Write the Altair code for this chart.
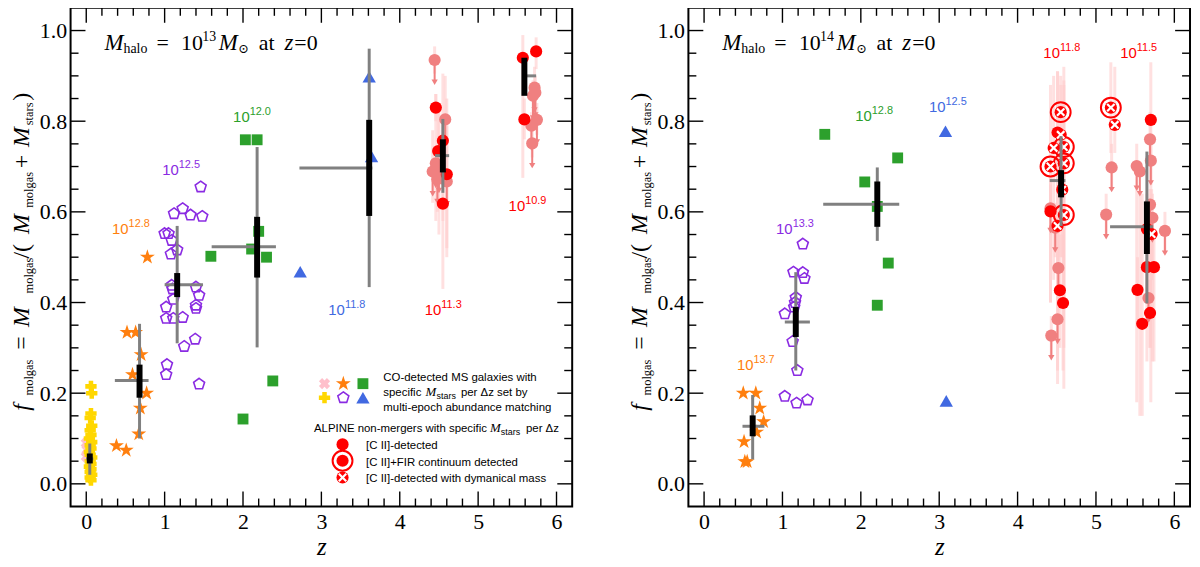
import altair as alt
import numpy as np
import pandas as pd

# ------------------------------------------------------------------ data
X_TICKS = [0, 1, 2, 3, 4, 5, 6]
Y_TICKS = [0.0, 0.2, 0.4, 0.6, 0.8, 1.0]
HALO_EXP = ["13", "14"]

# left panel: M_halo = 10^13 Msun at z=0
L_pink_z = [0.00, 0.01, 0.00]
L_pink_f = [0.090, 0.075, 0.060]
L_yellow_z = [0.06, 0.07, 0.06, 0.05, 0.07, 0.05, 0.06, 0.04, 0.07, 0.05, 0.06,
              0.04, 0.05, 0.07, 0.05, 0.06, 0.04, 0.06, 0.05, 0.07, 0.05, 0.06]
L_yellow_f = [0.215, 0.200, 0.155, 0.145, 0.128, 0.118, 0.108, 0.100, 0.092, 0.085, 0.078,
              0.070, 0.064, 0.058, 0.050, 0.044, 0.038, 0.032, 0.026, 0.020, 0.014, 0.008]
L_orange_z = [0.52, 0.63, 0.78, 0.70, 0.59, 0.77, 0.69, 0.67, 0.385, 0.51]
L_orange_f = [0.334, 0.334, 0.500, 0.285, 0.241, 0.200, 0.167, 0.110, 0.084, 0.074]
L_purple_z = [1.46, 1.23, 1.12, 1.33, 1.48, 1.00, 1.05, 1.09, 1.16, 1.08, 1.09, 1.10, 1.40,
              1.44, 1.11, 1.02, 1.40, 1.40, 1.02, 1.11, 1.23, 1.39, 1.25, 1.03, 1.02, 1.44]
L_purple_f = [0.655, 0.607, 0.596, 0.593, 0.590, 0.552, 0.552, 0.537, 0.516, 0.507, 0.438, 0.430, 0.434,
              0.416, 0.407, 0.390, 0.394, 0.387, 0.365, 0.365, 0.367, 0.319, 0.303, 0.263, 0.241, 0.220]
L_green_z = [1.59, 2.03, 2.18, 2.20, 2.11, 2.30, 2.38, 2.00]
L_green_f = [0.502, 0.759, 0.759, 0.557, 0.518, 0.500, 0.227, 0.143]
L_blue_z = [3.61, 3.64, 2.73]
L_blue_f = [0.898, 0.722, 0.468]

L_alp_z = [4.445, 4.58, 4.46, 4.42, 4.50, 4.60, 4.48, 4.46, 4.55, 4.49, 4.60, 4.55,
           5.57, 5.74, 5.59, 5.72, 5.73, 5.70, 5.75, 5.68, 5.69]
L_alp_f = [0.935, 0.804, 0.707, 0.689, 0.696, 0.667, 0.672, 0.830, 0.757, 0.734, 0.683, 0.618,
           0.940, 0.954, 0.804, 0.874, 0.863, 0.856, 0.803, 0.790, 0.751]
L_alp_kind = ["lim", "lim", "lim", "lim", "lim", "lim", "lim", "det", "det", "det", "det", "det",
              "det", "det", "det", "lim", "lim", "lim", "lim", "lim", "lim"]
L_alp_lo = [0.905, 0.66, 0.58, 0.62, 0.55, 0.50, 0.60, 0.80, 0.43, 0.62, 0.52, 0.58,
            0.675, 0.915, 0.76, 0.84, 0.83, 0.82, 0.77, 0.76, 0.72]
L_alp_hi = [0.965, 0.90, 0.86, 0.78, 0.83, 0.85, 0.74, 0.86, 0.905, 0.82, 0.79, 0.66,
            0.99, 0.985, 0.85, 0.92, 0.90, 0.89, 0.84, 0.82, 0.78]

L_med_z = [0.045, 0.68, 1.16, 2.18, 3.61, 4.55, 5.59]
L_med_f = [0.055, 0.228, 0.439, 0.523, 0.697, 0.724, 0.900]
L_med_zlo = [0.00, 0.365, 1.00, 1.60, 2.72, 4.45, 5.59]
L_med_zhi = [0.09, 0.795, 1.49, 2.42, 3.65, 4.63, 5.74]
L_med_flo = [0.020, 0.100, 0.310, 0.301, 0.434, 0.642, 0.890]
L_med_fhi = [0.089, 0.353, 0.569, 0.743, 0.960, 0.805, 0.910]
L_med_elo = [0.045, 0.190, 0.412, 0.455, 0.591, 0.687, 0.856]
L_med_ehi = [0.067, 0.263, 0.465, 0.589, 0.803, 0.760, 0.940]

L_lab_z = [0.54, 1.18, 2.085, 3.30, 4.53, 5.60]
L_lab_f = [0.551, 0.682, 0.798, 0.372, 0.372, 0.602]
L_lab_exp = ["12.8", "12.5", "12.0", "11.8", "11.3", "10.9"]
L_lab_series = ["orange", "purple", "green", "blue", "red", "red"]

# right panel: M_halo = 10^14 Msun at z=0
R_orange_z = [0.50, 0.66, 0.71, 0.76, 0.67, 0.51, 0.52, 0.55]
R_orange_f = [0.200, 0.200, 0.167, 0.137, 0.114, 0.093, 0.049, 0.049]
R_purple_z = [1.26, 1.14, 1.26, 1.28, 1.17, 1.16, 1.15, 1.03, 1.13, 1.19, 1.03, 1.18, 1.32]
R_purple_f = [0.529, 0.467, 0.466, 0.453, 0.411, 0.400, 0.390, 0.375, 0.314, 0.250, 0.193, 0.178, 0.185]
R_green_z = [1.54, 2.47, 2.05, 2.21, 2.35, 2.21]
R_green_f = [0.771, 0.719, 0.666, 0.612, 0.487, 0.394]
R_blue_z = [3.08, 3.09]
R_blue_f = [0.778, 0.183]

R_alp_z = [4.55, 4.51, 4.55, 4.46, 4.59, 4.42, 4.59, 4.57, 4.42, 4.42, 4.59, 4.51, 4.48, 4.52, 4.54, 4.58, 4.51, 4.43,
           5.19, 5.24, 5.70, 5.69, 5.20, 5.52, 5.56, 5.70, 5.69, 5.72, 5.13, 5.65, 5.71, 5.88, 5.65, 5.74, 5.53, 5.67, 5.69, 5.59]
R_alp_f = [0.820, 0.775, 0.770, 0.741, 0.743, 0.700, 0.707, 0.649, 0.601, 0.608, 0.593, 0.569, 0.565, 0.476, 0.427, 0.399, 0.363, 0.327,
           0.830, 0.792, 0.803, 0.760, 0.698, 0.701, 0.689, 0.713, 0.616, 0.587, 0.594, 0.562, 0.551, 0.558, 0.478, 0.478, 0.428, 0.410, 0.377, 0.353]
R_alp_kind = ["firdyn", "det", "dyn", "dyn", "firdyn", "firdyn", "firdyn", "dyn", "det", "lim", "firdyn", "dyn", "lim", "lim", "det", "det", "lim", "lim",
              "firdyn", "dyn", "det", "lim", "lim", "lim", "lim", "lim", "lim", "lim", "lim", "det", "dyn", "lim", "det", "det", "det", "lim", "det", "det"]
R_alp_lo = [0.74, 0.45, 0.50, 0.45, 0.40, 0.40, 0.30, 0.50, 0.40, 0.55, 0.21, 0.22, 0.50, 0.35, 0.30, 0.25, 0.25, 0.28,
            0.73, 0.73, 0.18, 0.70, 0.65, 0.18, 0.15, 0.66, 0.30, 0.27, 0.55, 0.27, 0.45, 0.51, 0.40, 0.27, 0.35, 0.37, 0.30, 0.15]
R_alp_hi = [0.90, 0.91, 0.88, 0.90, 0.92, 0.88, 0.88, 0.78, 0.70, 0.66, 0.89, 0.91, 0.62, 0.60, 0.55, 0.55, 0.45, 0.37,
            0.93, 0.92, 0.93, 0.82, 0.75, 0.75, 0.64, 0.76, 0.65, 0.64, 0.64, 0.64, 0.65, 0.60, 0.55, 0.55, 0.50, 0.45, 0.45, 0.64]

R_med_z = [0.62, 1.17, 2.21, 4.555, 5.65]
R_med_f = [0.127, 0.357, 0.617, 0.669, 0.567]
R_med_zlo = [0.49, 1.03, 1.52, 4.41, 5.18]
R_med_zhi = [0.77, 1.35, 2.49, 4.61, 5.73]
R_med_flo = [0.054, 0.250, 0.536, 0.569, 0.398]
R_med_fhi = [0.196, 0.467, 0.698, 0.767, 0.733]
R_med_elo = [0.105, 0.324, 0.567, 0.632, 0.507]
R_med_ehi = [0.151, 0.390, 0.667, 0.692, 0.623]

R_lab_z = [0.63, 1.13, 2.14, 3.08, 4.54, 5.52]
R_lab_f = [0.252, 0.551, 0.800, 0.820, 0.940, 0.940]
R_lab_exp = ["13.7", "13.3", "12.8", "12.5", "11.8", "11.5"]
R_lab_series = ["orange", "purple", "green", "blue", "red", "red"]

# legend symbols (left panel)
LEG_CO_series = ["pink", "orange", "green", "yellow", "purple", "blue"]
LEG_CO_z = [3.04, 3.28, 3.53, 3.04, 3.28, 3.53]
LEG_CO_f = [0.221, 0.221, 0.221, 0.190, 0.190, 0.190]
LEG_ALP_kind = ["det", "fir", "dyn"]
LEG_ALP_z = [3.27, 3.27, 3.27]
LEG_ALP_f = [0.087, 0.051, 0.014]

# ------------------------------------------------------------------ styles
W, H = 505, 502
XDOM = [-0.2, 6.2]
YDOM = [-0.05, 1.05]
SERIF = "Liberation Serif"
SANS = "Liberation Sans"
RED = "#FF0000"
SALMON = "#F08080"
GRAY = "#808080"
STAR = ("M0,-1L0.225,-0.309L0.951,-0.309L0.363,0.118L0.588,0.809L0,0.382"
        "L-0.588,0.809L-0.363,0.118L-0.951,-0.309L-0.225,-0.309Z")
PENT = "M0,-1L0.951,-0.309L0.588,0.809L-0.588,0.809L-0.951,-0.309Z"
XMARK = "M-1,-1L1,1M-1,1L1,-1"

STYLE = {
    "pink": dict(shape="cross", angle=45, color="#FFC0CB", size=130, filled=True),
    "yellow": dict(shape="cross", color="#FFD700", size=130, filled=True),
    "orange": dict(shape=STAR, color="#FF7F0E", size=250, filled=True),
    "purple": dict(shape=PENT, color="#8A2BE2", size=135, filled=False, strokeWidth=1.6),
    "green": dict(shape="square", color="#2CA02C", size=120, filled=True),
    "blue": dict(shape="triangle-up", color="#4169E1", size=180, filled=True),
}
COLORS = {k: v["color"] for k, v in STYLE.items()}
COLORS["red"] = RED

AX_X = alt.Axis(values=X_TICKS, format="d", ticks=False, grid=False, domain=False,
                labelFont=SERIF, labelFontSize=22, labelColor="black", labelPadding=5,
                title="z", titleFont=SERIF, titleFontSize=25, titleFontStyle="italic",
                titleFontWeight="normal", titleColor="black", titlePadding=2)
AX_Y = alt.Axis(values=Y_TICKS, format=".1f", ticks=False, grid=False, domain=False,
                labelFont=SERIF, labelFontSize=22, labelColor="black", labelPadding=4,
                title=None)


def X(field):
    return alt.X(f"{field}:Q", scale=alt.Scale(domain=XDOM, nice=False, zero=False), axis=AX_X)


def Y(field):
    return alt.Y(f"{field}:Q", scale=alt.Scale(domain=YDOM, nice=False, zero=False), axis=AX_Y)


def points(z, f, **style):
    df = pd.DataFrame({"z": z, "f": f})
    return alt.Chart(df).mark_point(opacity=1, **style).encode(x=X("z"), y=Y("f"))


def tick_rules(vals, side, length):
    base = alt.Chart(pd.DataFrame({"t": vals})).mark_rule(color="black", strokeWidth=1.4)
    if side == "left":
        return base.encode(y=Y("t"), x=alt.value(0), x2=alt.value(length))
    if side == "right":
        return base.encode(y=Y("t"), x=alt.value(W), x2=alt.value(W - length))
    if side == "bottom":
        return base.encode(x=X("t"), y=alt.value(H), y2=alt.value(H - length))
    return base.encode(x=X("t"), y=alt.value(0), y2=alt.value(length))


def text_layer(rows, **props):
    df = pd.DataFrame(rows, columns=["txt", "z", "f"])
    props.setdefault("color", "black")
    return alt.Chart(df).mark_text(align="left", baseline="alphabetic", **props).encode(
        x=X("z"), y=Y("f"), text="txt:N")


def alpine_layers(z, f, kind, lo=None, hi=None):
    df = pd.DataFrame({"z": z, "f": f, "kind": kind})
    out = []
    if lo is not None:
        df["lo"], df["hi"] = lo, hi
        out.append(alt.Chart(df).mark_rule(color="#FFCCCC", strokeWidth=3, opacity=0.6).encode(
            x=X("z"), y=Y("lo"), y2=alt.Y2("hi:Q")))
    lim = df[df.kind == "lim"]
    if len(lim):
        arr = pd.DataFrame({"z": lim.z, "f": lim.f, "fa": lim.f - 0.045})
        out.append(alt.Chart(arr).mark_rule(color=SALMON, strokeWidth=2).encode(
            x=X("z"), y=Y("f"), y2=alt.Y2("fa:Q")))
        out.append(points(arr.z, arr.fa - 0.004, shape="triangle-down", color=SALMON, size=40, filled=True))
        out.append(points(lim.z, lim.f, shape="circle", color=SALMON, size=150, filled=True))
    det = df[df.kind != "lim"]
    if len(det):
        out.append(points(det.z, det.f, shape="circle", color=RED, size=150, filled=True))
    fir = df[df.kind.isin(["fir", "firdyn"])]
    if len(fir):
        out.append(points(fir.z, fir.f, shape="circle", color=RED, size=400, filled=False, strokeWidth=2))
    dyn = df[df.kind.isin(["dyn", "firdyn"])]
    if len(dyn):
        out.append(points(dyn.z, dyn.f, shape=XMARK, color="white", size=55, filled=False, strokeWidth=2.2))
    return out


def median_layers(z, f, zlo, zhi, flo, fhi, elo, ehi):
    df = pd.DataFrame({"z": z, "f": f, "zlo": zlo, "zhi": zhi, "flo": flo, "fhi": fhi,
                       "elo": elo, "ehi": ehi})
    c = alt.Chart(df)
    return [
        c.mark_rule(color=GRAY, strokeWidth=3).encode(x=X("zlo"), x2=alt.X2("zhi:Q"), y=Y("f")),
        c.mark_rule(color=GRAY, strokeWidth=3).encode(x=X("z"), y=Y("flo"), y2=alt.Y2("fhi:Q")),
        c.mark_rule(color="black", strokeWidth=6).encode(x=X("z"), y=Y("elo"), y2=alt.Y2("ehi:Q")),
    ]


def label_layers(z, f, exp, series):
    df = pd.DataFrame({"z": z, "f": f, "exp": exp, "base": "10",
                       "col": [COLORS[s] for s in series]})
    c = alt.Chart(df)
    return [
        c.mark_text(align="right", baseline="alphabetic", font=SANS, fontSize=15).encode(
            x=X("z"), y=Y("f"), text="base:N", color=alt.Color("col:N", scale=None)),
        c.mark_text(align="left", baseline="alphabetic", font=SANS, fontSize=11, dy=-7).encode(
            x=X("z"), y=Y("f"), text="exp:N", color=alt.Color("col:N", scale=None)),
    ]


def frame_layers():
    x_minor = [round(v, 1) for v in np.arange(0.2, 6.0, 0.2) if abs(v - round(v)) > 0.01]
    y_minor = [round(v, 2) for v in np.arange(0.05, 1.0, 0.05) if abs(v / 0.2 - round(v / 0.2)) > 0.01]
    out = []
    for side in ["left", "right"]:
        out += [tick_rules(Y_TICKS, side, 15), tick_rules(y_minor, side, 8)]
    for side in ["bottom", "top"]:
        out += [tick_rules(X_TICKS, side, 15), tick_rules(x_minor, side, 8)]
    return out


def title_layers(exp):
    zm, zs = -0.733, -0.683
    out = [
        text_layer([("f", zm, 0.161), ("M", zm, 0.346), ("M", zm, 0.551), ("M", zm, 0.743)],
                   font=SERIF, fontSize=24, fontStyle="italic", angle=270),
        text_layer([("=", zm, 0.296), ("/(", zm, 0.497), ("+", zm, 0.696), (")", zm, 0.845)],
                   font=SERIF, fontSize=24, angle=270),
        text_layer([("molgas", zs, 0.195), ("molgas", zs, 0.42), ("molgas", zs, 0.609), ("stars", zs, 0.791)],
                   font=SERIF, fontSize=12.5, angle=270),
        # header  M_halo = 10^exp M_sun at z=0
        text_layer([("M", 0.232, 0.957), ("M", 1.69, 0.957), ("z", 2.53, 0.957)],
                   font=SERIF, fontSize=23, fontStyle="italic"),
        text_layer([("=", 0.895, 0.957), ("10", 1.21, 0.957), ("at", 2.20, 0.957), ("=0", 2.655, 0.957)],
                   font=SERIF, fontSize=22),
        text_layer([("halo", 0.475, 0.950), (exp, 1.48, 0.977)], font=SERIF, fontSize=14),
        text_layer([("\u2299", 1.94, 0.950)], font="DejaVu Serif", fontSize=13),
    ]
    return out


def legend_layers():
    out = []
    for s, z, f in zip(LEG_CO_series, LEG_CO_z, LEG_CO_f):
        out.append(points([z], [f], **STYLE[s]))
    out += alpine_layers(LEG_ALP_z, LEG_ALP_f, LEG_ALP_kind)
    out.append(text_layer([
        ("CO-detected MS galaxies with", 3.79, 0.227),
        ("specific", 3.79, 0.194),
        ("per \u0394z set by", 4.78, 0.194),
        ("multi-epoch abundance matching", 3.79, 0.161),
        ("ALPINE non-mergers with specific", 2.905, 0.115),
        ("per \u0394z", 5.61, 0.115),
        ("[C II]-detected", 3.57, 0.076),
        ("[C II]+FIR continuum detected", 3.57, 0.040),
        ("[C II]-detected with dymanical mass", 3.57, 0.003),
    ], font=SANS, fontSize=11.5))
    out.append(text_layer([("M", 4.33, 0.194), ("M", 5.15, 0.115)],
                          font=SERIF, fontSize=13, fontStyle="italic"))
    out.append(text_layer([("stars", 4.47, 0.187), ("stars", 5.29, 0.108)], font=SANS, fontSize=9))
    return out


def panel(series, alp, med, lab, exp, legend=False):
    layers = frame_layers()
    layers += [alpine_layers(*alp)[0]]
    for name, (z, f) in series.items():
        layers.append(points(z, f, **STYLE[name]))
    layers += alpine_layers(*alp)[1:]
    layers += median_layers(*med)
    layers += label_layers(*lab)
    layers += title_layers(exp)
    if legend:
        layers += legend_layers()
    return alt.layer(*layers).properties(width=W, height=H)


left = panel(
    {"pink": (L_pink_z, L_pink_f), "yellow": (L_yellow_z, L_yellow_f),
     "orange": (L_orange_z, L_orange_f), "purple": (L_purple_z, L_purple_f),
     "green": (L_green_z, L_green_f), "blue": (L_blue_z, L_blue_f)},
    (L_alp_z, L_alp_f, L_alp_kind, L_alp_lo, L_alp_hi),
    (L_med_z, L_med_f, L_med_zlo, L_med_zhi, L_med_flo, L_med_fhi, L_med_elo, L_med_ehi),
    (L_lab_z, L_lab_f, L_lab_exp, L_lab_series),
    HALO_EXP[0], legend=True)

right = panel(
    {"orange": (R_orange_z, R_orange_f), "purple": (R_purple_z, R_purple_f),
     "green": (R_green_z, R_green_f), "blue": (R_blue_z, R_blue_f)},
    (R_alp_z, R_alp_f, R_alp_kind, R_alp_lo, R_alp_hi),
    (R_med_z, R_med_f, R_med_zlo, R_med_zhi, R_med_flo, R_med_fhi, R_med_elo, R_med_ehi),
    (R_lab_z, R_lab_f, R_lab_exp, R_lab_series),
    HALO_EXP[1])

chart = alt.hconcat(left, right, spacing=52).properties(
    padding={"left": 0, "top": -4, "right": 0, "bottom": 0}, background="white"
).configure_view(stroke="black", strokeWidth=2)

chart.save("out.html", embed_options={"renderer": "svg", "actions": False})
